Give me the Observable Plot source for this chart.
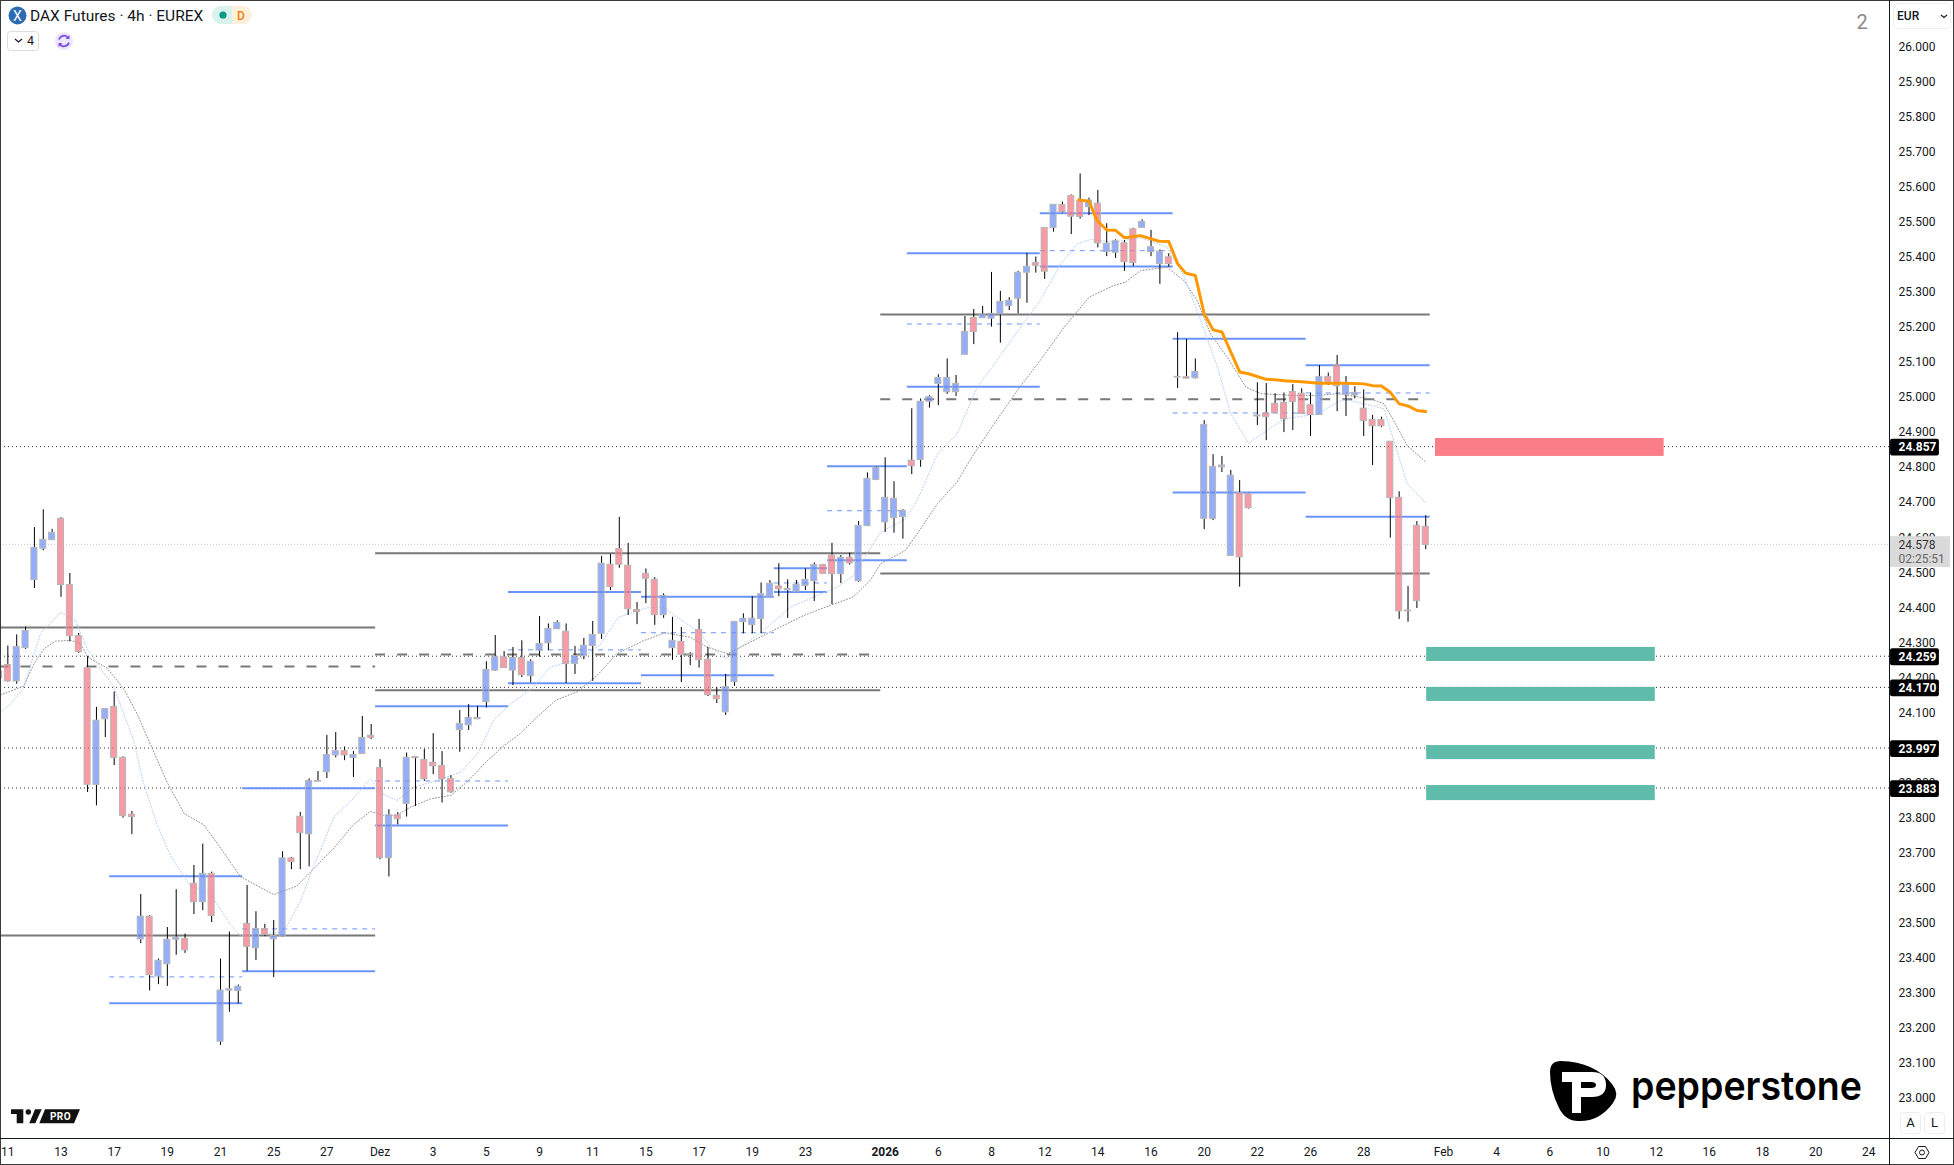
<!DOCTYPE html>
<html><head><meta charset="utf-8">
<script src="https://cdn.jsdelivr.net/npm/d3@7"></script>
<script src="https://cdn.jsdelivr.net/npm/@observablehq/plot@0.6"></script>
<style>
html,body{margin:0;padding:0;background:#fff;overflow:hidden}
#wrap{position:relative;width:1954px;height:1165px}
#wrap svg{display:block;position:absolute;left:0;top:0}
text{font-family:Roboto,sans-serif}
</style></head><body><div id="wrap"></div>
<script>
const firstBar = -1;
const directions = "brbbbbbrrrrbbrrrbrbbbrrbrbbbrbrbbrrbbbbrbbrrbr".concat(
 "bbrrrrbbbbbrbrbbbbrbbbbrrrrrrbbrrrrrbbbbbbrbbbbrrbrbbbbbbrbbbbbbrbbbbbbrrbrrrbrbbrrbbbrbrbbbbbrrbrrrrrrbrrbbr");
const highs = [24235,24288,24320,24342,24626,24677,24621,24654,24495,24324,24258,24113,24110,24157,23972,23816,23579,23519,23395,23485,23593,23466,23662,23723,23643,23395,23472,23321,23605,23530,23494,23505,23701,23685,23813,23909,23930,24033,24041,24000,23987,24087,24064,23964,23821,23813,
 23983,23973,23993,24038,23987,23918,24104,24121,24116,24243,24318,24272,24284,24303,24249,24372,24351,24360,24351,24287,24310,24358,24544,24549,24655,24581,24412,24508,24483,24437,24370,24341,24269,24364,24284,24169,24207,24357,24380,24429,24468,24475,24523,24477,24475,24508,24525,24521,24581,24546,24553,
 24643,24782,24800,24825,24757,24677,24965,24993,25002,25062,25107,25060,25228,25248,25257,25354,25300,25282,25357,25408,25398,25481,25547,25555,25575,25635,25566,25588,25493,25447,25445,25480,25504,25474,25418,25407,25182,25163,25107,
 24931,24834,24829,24789,24760,24724,25039,25037,25008,25010,25034,25022,25010,25088,25067,25117,25057,25028,25019,24946,24941,24871,24728,24458,24643,24660];
const bodyTops = [24215,24234,24285,24331,24568,24591,24611,24651,24462,24316,24225,24075,24108,24114,23969,23807,23516,23516,23390,23450,23456,23452,23610,23638,23638,23305,23309,23316,23495,23481,23481,23461,23682,23682,23801,23903,23903,23977,23988,23988,23977,24026,24032,23940,23805,23805,
 23969,23971,23963,23955,23946,23909,24066,24083,24083,24220,24256,24256,24254,24254,24243,24294,24337,24354,24329,24260,24289,24320,24523,24520,24565,24517,24391,24494,24477,24431,24303,24300,24264,24334,24249,24146,24171,24357,24366,24366,24436,24466,24458,24451,24463,24477,24519,24519,24546,24540,24540,
 24631,24765,24797,24711,24708,24674,24817,24985,24998,25053,25053,25036,25184,25224,25234,25236,25270,25273,25353,25370,25381,25481,25547,25546,25572,25557,25559,25550,25436,25443,25437,25477,25498,25426,25413,25397,25056,25055,25070,
 24919,24799,24803,24774,24724,24722,24946,24952,24979,24982,25013,25008,24975,25055,25056,25089,25033,25010,24965,24933,24933,24871,24711,24389,24631,24628];
const bodyBottoms = [24195,24187,24187,24282,24476,24566,24590,24462,24316,24271,23892,23892,24079,23969,23803,23800,23451,23349,23345,23380,23450,23420,23557,23557,23518,23159,23305,23304,23430,23426,23464,23451,23459,23672,23754,23751,23901,23928,23976,23976,23969,23980,24026,23683,23683,23794,
 23838,23968,23908,23945,23908,23871,24048,24062,24079,24128,24218,24225,24218,24205,24202,24275,24296,24336,24237,24237,24259,24288,24323,24456,24520,24393,24385,24480,24376,24376,24282,24263,24263,24248,24148,24136,24099,24185,24356,24348,24365,24429,24450,24447,24443,24459,24473,24494,24493,24493,24524,
 24473,24630,24762,24641,24653,24656,24801,24819,24985,25036,25012,25012,25119,25184,25223,25222,25234,25258,25279,25353,25373,25356,25481,25526,25513,25512,25540,25437,25412,25410,25383,25381,25481,25412,25378,25378,25054,25051,25052,
 24651,24651,24798,24545,24541,24681,24943,24941,24952,24935,24984,24950,24947,24947,25041,25029,25005,25003,24930,24915,24915,24710,24387,24387,24416,24576];
const lows = [24190,24185,24179,24278,24452,24560,24590,24427,24300,24267,23870,23832,24027,23947,23797,23750,23439,23304,23322,23317,23406,23411,23522,23533,23499,23149,23243,23267,23360,23391,23459,23342,23457,23650,23650,23658,23901,23910,23969,23961,23913,23980,24021,23678,23629,23778,
 23800,23830,23902,23921,23840,23868,23985,24047,24079,24111,24216,24225,24175,24198,24183,24256,24275,24335,24181,24207,24249,24187,24307,24446,24510,24375,24349,24409,24347,24367,24247,24184,24232,24225,24144,24124,24090,24173,24323,24323,24323,24429,24429,24367,24441,24446,24415,24494,24406,24466,24519,
 24470,24630,24760,24612,24610,24593,24777,24798,24967,24974,25006,25000,25119,25148,25223,25198,25152,25245,25236,25266,25352,25334,25469,25523,25462,25506,25516,25424,25399,25394,25357,25371,25481,25399,25320,25369,25023,25050,25050,
 24620,24646,24783,24545,24456,24679,24917,24874,24952,24897,24903,24950,24886,24947,25031,24957,24943,24993,24886,24803,24911,24596,24364,24356,24395,24563];

const slowIdx = [-0.83,1.8,2.93,4.06,5.38,7.07,8.2,9.03,11.2,13.1,14.6,16.1,18,19.9,22.1,24,26.25,30,32.6,34.3,36.8,39,40.9,42.4,43.9,45.4,47.7,50,51.8,54.1,56,57.8,59.7,61.8,64.2,66.5,68.7,71.8,74.2,77,78.9,81.2,82.7,86,89.8,92.8,95.4,97.3,98.5,101.3,102.6,104.9,107.1,109,111.3,113.9,116.5,119.2,122,124.8,126.1,127.8,130.8,132.7,134.2,135.7,137.6,139.7,141.4,145.1,147.7,150,153.8,155.3,156.8,157.9,160];
const slowVal = [24148,24174,24236,24280,24302,24304,24296,24256,24225,24165,24094,24007,23898,23810,23778,23712,23630,23579,23603,23647,23712,23778,23816,23805,23805,23828,23852,23862,23900,23961,24004,24038,24085,24133,24157,24204,24266,24304,24326,24313,24285,24266,24285,24328,24375,24404,24428,24475,24523,24561,24608,24694,24756,24836,24922,25017,25103,25198,25283,25317,25326,25359,25369,25331,25274,25179,25112,25027,25008,25003,25003,25008,24993,24979,24912,24860,24813];
const fastIdx = [-0.83,0.3,1.8,3.7,5.94,7.63,8.95,11.96,14.2,15.3,16.85,18.35,20.6,22.87,25.1,26.25,31.1,33,34.3,36.8,39,40.9,42.4,43.9,45.8,48.4,51.1,53,54.8,56.7,59.3,61.2,62.7,65,66.9,68.9,70.6,72.1,74,75.5,78,79.3,81,82.7,85.7,88.3,90.9,93.6,95.4,97.3,98.5,101.3,102.6,104.9,107.1,109.4,111.6,113.9,116.5,118.8,120.7,122.2,124.8,127.8,130.8,132.7,134.6,136.5,138,140,144,147.7,150.75,155.3,156.4,157.9,160];
const fastVal = [24100,24122,24171,24324,24384,24362,24280,24171,24018,23898,23778,23690,23603,23581,23494,23461,23472,23559,23647,23800,23854,23909,23865,23847,23885,23904,23928,23981,24076,24123,24171,24228,24239,24256,24294,24370,24385,24397,24399,24370,24328,24285,24252,24285,24342,24399,24427,24456,24489,24565,24613,24651,24703,24836,24893,25027,25103,25184,25274,25378,25436,25448,25440,25453,25426,25345,25217,25084,24951,24867,24936,24950,24993,24965,24874,24751,24696];
const orangeIdx = [120.85,122,122.9,124,125,126,127.8,129.9,131,132,132.9,134,135,136,137,139,140,142,143,144,146,148,151,153,154,155,156,157,158,159,160];
const orangeVal = [25561,25557,25502,25475,25474,25453,25459,25443,25442,25379,25352,25345,25236,25190,25184,25070,25065,25049,25048,25045,25042,25038,25038,25036,25031,25030,25012,24979,24973,24960,24957];

const blueSolid = [[23631,11.5,26.5],[23269,11.5,26.5],[23882,26.5,41.5],[23360,26.5,41.5],[24116,41.5,56.5],[23776,41.5,56.5],[24442,56.5,71.5],[24182,56.5,71.5],[24429,71.5,86.5],[24205,71.5,86.5],[24510,86.5,92.5],[24442,86.5,92.5],[24801,92.5,101.5],[24533,92.5,101.5],[25409,101.5,116.5],[25028,101.5,116.5],[25523,116.5,131.5],[25371,116.5,131.5],[25165,131.5,146.5],[24726,131.5,146.5],[25089,146.5,160.5],[24657,146.5,160.5]];
const blueDashed = [[23344,11.5,26.5],[23481,26.5,41.5],[23903,41.5,56.5],[24277,56.5,71.5],[24326,71.5,86.5],[24468,86.5,92.5],[24674,92.5,101.5],[25207,101.5,116.5],[25416,116.5,131.5],[24953,131.5,146.5],[25010,146.5,160.5]];
const graySolid = [[24341,-1,41.5],[23462,-1,41.5],[24553,41.5,98.5],[24162,41.5,98.5],[25234,98.5,160.5],[24495,98.5,160.5]];
const grayDashed = [[24230,-1,41.5],[24264,41.5,97.4],[24992,98.5,159.2]];
const levelLabels = [24857,24259,24170,23997,23883];
const lastPrice = 24578;
const countdown = "02:25:51";
const redZones = [[24880,24829,161.1,186.9]];
const tealZones = [[24284,24244,160.1,185.9],[24170,24130,160.1,185.9],[24004,23964,160.1,185.9],[23890,23847,160.1,185.9]];
const priceTicks = d3.range(23000,26001,100);
const dateTicks = [0,6,12,18,24,30,36,42,48,54,60,66,72,78,84,90,99,105,111,117,123,129,135,141,147,153,162,168,174,180,186,192,198,204,210];
const dateLabels = ["11","13","17","19","21","25","27","Dez","3","5","9","11","15","17","19","23","2026","6","8","12","14","16","20","22","26","28","Feb","4","6","10","12","16","18","20","24"];

const candles = highs.map((h,k)=>({i:firstBar+k,h,t:bodyTops[k],b:bodyBottoms[k],l:lows[k],up:directions[k]==="b"}));
const seg = r => r.map(([p,a,b])=>({p,a,b}));
const zip = (xs,ys) => xs.map((x,k)=>({x,y:ys[k]}));
const zone = r => r.map(([t,b,a,c])=>({t,b,a,c}));
const nf = d3.formatLocale({decimal:",",thousands:".",grouping:[3],currency:["","€"]}).format(",d");
const labelOf = d => dateLabels[dateTicks.indexOf(d)];

const plot = Plot.plot({
  width:1954,height:1165,marginLeft:0,marginTop:0,marginRight:65,marginBottom:27,
  x:{type:"linear",domain:[-0.827,212.33]},
  y:{type:"linear",domain:[22883,26129.8]},
  style:{background:"#fff",fontFamily:"Roboto,sans-serif",fontSize:"12px",color:"#131722"},
  marks:[
    Plot.axisY({anchor:"right",ticks:priceTicks,tickFormat:nf,tickSize:0,tickPadding:9,label:null,fontSize:12,fill:"#131722",dy:1}),
    Plot.axisX({anchor:"bottom",ticks:dateTicks.filter(d=>d!==99),tickFormat:labelOf,tickSize:0,tickPadding:9,label:null,fontSize:12,fill:"#131722"}),
    Plot.axisX({anchor:"bottom",ticks:[99],tickFormat:labelOf,tickSize:0,tickPadding:9,label:null,fontSize:12,fontWeight:"bold",fill:"#131722"}),
    Plot.ruleY(levelLabels,{stroke:"#333",strokeWidth:1,strokeDasharray:"1,3"}),
    Plot.ruleY([lastPrice],{stroke:"#c8c8c8",strokeWidth:1,strokeDasharray:"1,2"}),
    Plot.rect(zone(redZones),{x1:"a",x2:"c",y1:"t",y2:"b",fill:"#fb7d88"}),
    Plot.rect(zone(tealZones),{x1:"a",x2:"c",y1:"t",y2:"b",fill:"#5fbcab"}),
    Plot.ruleY(seg(graySolid),{y:"p",x1:"a",x2:"b",stroke:"#787878",strokeWidth:2}),
    Plot.ruleY(seg(grayDashed),{y:"p",x1:"a",x2:"b",stroke:"#787878",strokeWidth:2,strokeDasharray:"10,12"}),
    Plot.ruleY(seg(blueSolid),{y:"p",x1:"a",x2:"b",stroke:"#6b94fb",strokeWidth:2}),
    Plot.ruleY(seg(blueDashed),{y:"p",x1:"a",x2:"b",stroke:"#6b94fb",strokeWidth:1,strokeDasharray:"5,5"}),
    Plot.line(zip(slowIdx,slowVal),{x:"x",y:"y",stroke:"#8f8f8f",strokeWidth:1,strokeDasharray:"1,2"}),
    Plot.line(zip(fastIdx,fastVal),{x:"x",y:"y",stroke:"#b0ccfb",strokeWidth:1,strokeDasharray:"1,2"}),
    Plot.ruleX(candles,{x:"i",y1:"h",y2:"t",stroke:"#000",strokeWidth:1}),
    Plot.ruleX(candles,{x:"i",y1:"b",y2:"l",stroke:"#000",strokeWidth:1}),
    Plot.rect(candles,{x1:d=>d.i-0.34,x2:d=>d.i+0.34,y1:"t",y2:"b",fill:d=>d.up?"#668bf9":"#f86f7d",fillOpacity:0.7,stroke:"#b5b5b5",strokeWidth:1}),
    Plot.line(zip(orangeIdx,orangeVal),{x:"x",y:"y",stroke:"#ff9800",strokeWidth:3,strokeLinejoin:"round"}),
    Plot.rect([lastPrice],{x1:212.45,x2:219.2,y1:24600,y2:24512,fill:"#dadada"}),
    Plot.text([lastPrice],{x:212.45,y:d=>d,dx:8,dy:1,textAnchor:"start",text:nf,fill:"#333",fontSize:12}),
    Plot.text([countdown],{x:212.45,y:lastPrice,dx:8,dy:15,textAnchor:"start",fill:"#666",fontSize:12}),
    Plot.rect(levelLabels,{x1:212.45,x2:217.96,y1:d=>d+21,y2:d=>d-27,fill:"#000",rx:2}),
    Plot.text(levelLabels,{x:212.45,y:d=>d,dx:8,dy:1,textAnchor:"start",text:nf,fill:"#fff",fontSize:12,fontWeight:"bold"})
  ]
});
const wrap = document.getElementById("wrap");
wrap.appendChild(plot);
const overlay = document.createElementNS("http://www.w3.org/2000/svg","svg");
overlay.setAttribute("width",1954);overlay.setAttribute("height",1165);
overlay.innerHTML = `
<rect x="0.5" y="0.5" width="1953" height="1164" fill="none" stroke="#3a3a3a"/>
<line x1="1889.5" x2="1889.5" y1="0" y2="1165" stroke="#131722"/>
<line x1="0" x2="1954" y1="1138.5" y2="1138.5" stroke="#131722"/>
<circle cx="17.500" cy="15.500" r="9" fill="#2d6bb5"/>
<text x="17.500" y="20.500" text-anchor="middle" font-size="14" fill="#fff">X</text>
<text x="30" y="20.500" font-size="15.500" fill="#131722">DAX Futures · 4h · EUREX</text>
<path d="M221 6H232V24H221a9 9 0 0 1 0-18Z" fill="#d9f2ec"/>
<path d="M232 6H243a9 9 0 0 1 0 18H232Z" fill="#fff0dc"/>
<circle cx="223" cy="15" r="3.600" fill="#089981"/>
<text x="241" y="19.500" text-anchor="middle" font-size="12" font-weight="500" fill="#f57c00">D</text>
<rect x="7.500" y="31.500" width="31" height="19" rx="3" fill="#fff" stroke="#dcdcdc"/>
<path d="M15 39l3.500 3 3.500-3" fill="none" stroke="#131722" stroke-width="1.200"/>
<text x="27" y="45" font-size="12.500" fill="#131722">4</text>
<circle cx="64" cy="41" r="9" fill="#ece5fb"/>
<path d="M59 39.500a5.200 5.200 0 0 1 9.300-1.500M69 42.500a5.200 5.200 0 0 1-9.300 1.500" fill="none" stroke="#7e4be0" stroke-width="1.700"/>
<path d="M69.500 35v4h-4ZM58.500 47v-4h4Z" fill="#7e4be0"/>
<text x="1862" y="29" text-anchor="middle" font-size="20" fill="#8a8a8a">2</text>
<rect x="1893.500" y="3.500" width="57" height="25" rx="4" fill="#fff" stroke="#eeeeee"/>
<text x="1897" y="20" font-size="12" font-weight="500" fill="#131722">EUR</text>
<path d="M1941 15l3 2.500 3-2.500" fill="none" stroke="#131722" stroke-width="1.100"/>
<rect x="1900.500" y="1112.500" width="20" height="21" rx="3" fill="#fff" stroke="#eeeeee"/>
<rect x="1924.500" y="1112.500" width="20" height="21" rx="3" fill="#fff" stroke="#eeeeee"/>
<text x="1910.500" y="1127" text-anchor="middle" font-size="13" fill="#131722">A</text>
<text x="1934.500" y="1127" text-anchor="middle" font-size="13" fill="#131722">L</text>
<path d="M1915 1152.500l3.500-6h7l3.500 6-3.500 6h-7Z" fill="none" stroke="#131722" stroke-width="1"/>
<circle cx="1922" cy="1152.500" r="2.500" fill="none" stroke="#131722"/>
<path d="M1550 1072Q1550 1061 1561 1061Q1595 1062 1612 1084Q1620 1094 1613 1103Q1600 1121 1580 1121Q1566 1122 1559 1108Q1550 1090 1550 1072Z" fill="#000"/>
<path fill-rule="evenodd" d="M1562 1072H1592Q1606 1072 1606 1085Q1606 1097 1592 1097H1581V1113H1572V1082H1562ZM1581 1082V1088H1591Q1596 1088 1596 1085Q1596 1082 1591 1082Z" fill="#fff"/>
<text transform="translate(1631 1100) scale(1 0.92)" font-size="44" font-weight="600" style="font-family:Inter,sans-serif" textLength="231" lengthAdjust="spacingAndGlyphs" fill="#000">pepperstone</text>
<path d="M11 1109.300H23.300V1123.300H16.700V1114H11Z" fill="#111"/>
<circle cx="28.300" cy="1112" r="2.700" fill="#111"/>
<path d="M29.300 1123.300L35 1109.300H41.700L35.300 1123.300Z" fill="#111"/>
<path d="M39.300 1123.300L45 1109.300H80L74 1123.300Z" fill="#111"/>
<text x="60.500" y="1120.300" text-anchor="middle" font-size="10" font-weight="700" fill="#fff" letter-spacing="0.500">PRO</text>
`;
wrap.appendChild(overlay);
</script></body></html>
